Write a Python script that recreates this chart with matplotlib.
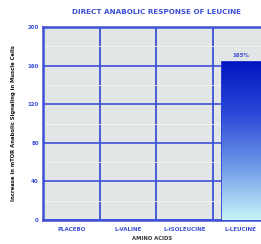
import matplotlib.pyplot as plt
import numpy as np

categories = ["PLACEBO", "L-VALINE", "L-ISOLEUCINE", "L-LEUCINE"]
values = [0, 0, 0, 165]
bar_labels = ["", "", "", "165%"]
yticks = [0, 40, 80, 120, 160, 200]

blue = "#3d4fd6"

fig = plt.figure(figsize=(2.61, 2.44), dpi=100)
ax = fig.add_axes([43/261, 24/244, 218/261, 193/244])
ax.set_facecolor("#e1e5e5")

x = np.arange(len(categories))
bars = ax.bar(x, values, width=0.7, color="none", edgecolor="#2a3fd0", lw=0.6, zorder=4)

# degradado vertical de las barras
grad = np.linspace(0, 1, 256).reshape(-1, 1)
cmap = plt.matplotlib.colors.LinearSegmentedColormap.from_list(
    "g", ["#c8f4f8", "#6f9ae8", "#2a48d8", "#0014c0"])
for b in bars:
    if b.get_height() <= 0:
        continue
    im = ax.imshow(grad, extent=[b.get_x(), b.get_x() + b.get_width(), 0, b.get_height()],
                   origin="lower", aspect="auto", cmap=cmap, zorder=3)
    im.set_clip_path(b)

for xi, v, lab in zip(x, values, bar_labels):
    if lab:
        ax.text(xi, v + 3, lab, ha="center", va="bottom", fontsize=4, color=blue,
                fontweight="bold", zorder=4)

ax.set_xlim(-0.5, -0.5 + 218/56.5)
ax.set_ylim(0, 200)
ax.set_yticks(yticks)
ax.set_yticks(np.arange(20, 200, 40), minor=True)
ax.set_xticks(x)
ax.set_xticklabels(categories)

ax.grid(True, axis="y", which="major", color=blue, lw=1.2, zorder=1)
ax.grid(True, axis="y", which="minor", color="#f4f6f6", lw=0.6, zorder=1)
for xv in x[:-1] + 0.5:
    ax.axvline(xv, color=blue, lw=1.3, zorder=1)

ax.tick_params(axis="both", which="both", length=0, labelsize=4, labelcolor=blue)
ax.tick_params(axis="x", pad=5)
ax.tick_params(axis="y", pad=3)
for t in ax.get_xticklabels() + ax.get_yticklabels():
    t.set_fontweight("bold")

for s in ["left", "bottom", "top"]:
    ax.spines[s].set_color(blue)
    ax.spines[s].set_linewidth(1.8)
ax.spines["right"].set_visible(False)

ax.set_xlabel("AMINO ACIDS", fontsize=3.8, color="#333333", fontweight="bold", labelpad=3)
ax.set_ylabel("Increase in mTOR Anabolic Signaling in Muscle Cells", fontsize=3.8,
              color="#111111", fontweight="bold", labelpad=8)
fig.text(0.6, 0.95, "DIRECT ANABOLIC RESPONSE OF LEUCINE", ha="center", va="center",
         fontsize=5.2, color=blue, fontweight="bold")

fig.savefig("out.png", dpi=100)
